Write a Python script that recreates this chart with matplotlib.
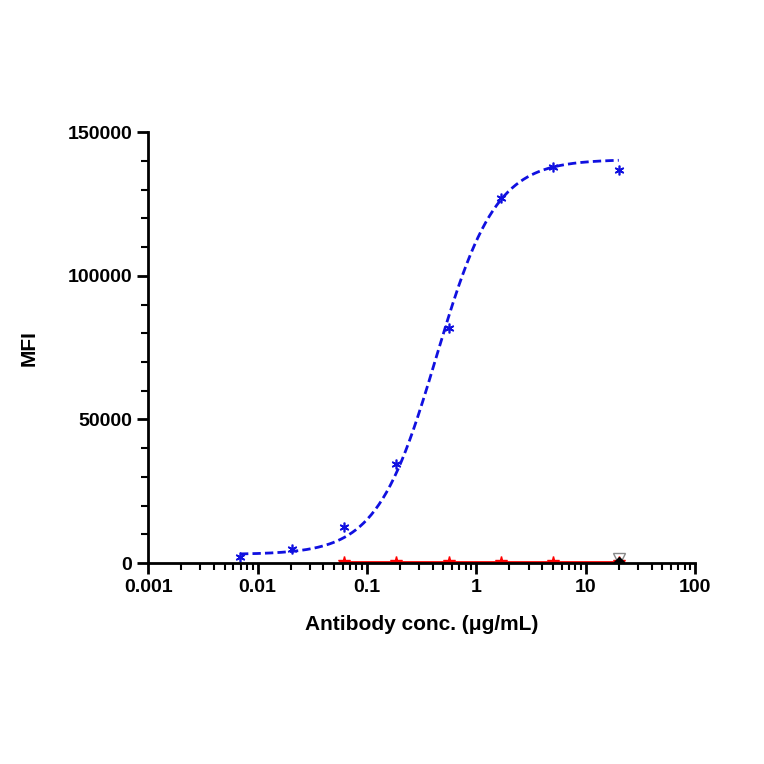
import numpy as np
import matplotlib.pyplot as plt

plt.rcParams["font.family"] = ["Liberation Sans", "DejaVu Sans"]

conc = [0.0069, 0.0206, 0.0617, 0.185, 0.556, 1.67, 5.0, 20.0]
mfi_blue = [2000, 5000, 12500, 34500, 82000, 127000, 138000, 137000]
conc_red = [0.0617, 0.185, 0.556, 1.67, 5.0, 20.0]
mfi_red = [500, 500, 500, 500, 500, 500]

# 4PL fit parameters
bottom, top, ec50, hill = 3000, 140500, 0.43, 1.6


def four_pl(x):
    return bottom + (top - bottom) / (1 + (ec50 / x) ** hill)


fig = plt.figure(figsize=(7.64, 7.64), dpi=100)
ax = fig.add_axes([0.194, 0.263, 0.716, 0.564])

xs = np.logspace(np.log10(conc[0]), np.log10(conc[-1]), 200)
ax.plot(xs, four_pl(xs), color="#1010e0", ls=(0, (3, 1.5)), lw=2)
ax.plot(conc, mfi_blue, ls="none", marker=(6, 2, 0), color="#1010e0", ms=7, mew=1.2)
ax.plot(conc_red, mfi_red, color="red", lw=2, marker="*", ms=9)
ax.plot([20], [1500], marker="v", color="#888888", mfc="none", ms=8, ls="none")
ax.plot([20], [200], marker="D", color="black", ms=5, ls="none")

ax.set_xscale("log")
ax.set_xlim(0.001, 100)
ax.set_ylim(0, 150000)
ax.set_yticks([0, 50000, 100000, 150000])
ax.set_yticklabels(["0", "50000", "100000", "150000"])
ax.set_xticks([0.001, 0.01, 0.1, 1, 10, 100])
ax.set_xticklabels(["0.001", "0.01", "0.1", "1", "10", "100"])
ax.yaxis.set_minor_locator(plt.MultipleLocator(10000))
ax.tick_params(which="major", width=2, length=8, labelsize=14)
ax.tick_params(which="minor", width=1.5, length=5)
for lab in ax.get_xticklabels() + ax.get_yticklabels():
    lab.set_fontweight("bold")
for s in ["top", "right"]:
    ax.spines[s].set_visible(False)
for s in ["left", "bottom"]:
    ax.spines[s].set_linewidth(2)
ax.set_xlabel("Antibody conc. (μg/mL)", fontsize=15, fontweight="bold", labelpad=14)
ax.set_ylabel("MFI", fontsize=15, fontweight="bold")
ax.yaxis.set_label_coords(-0.2, 0.5)

fig.savefig("out.png", dpi=100)
